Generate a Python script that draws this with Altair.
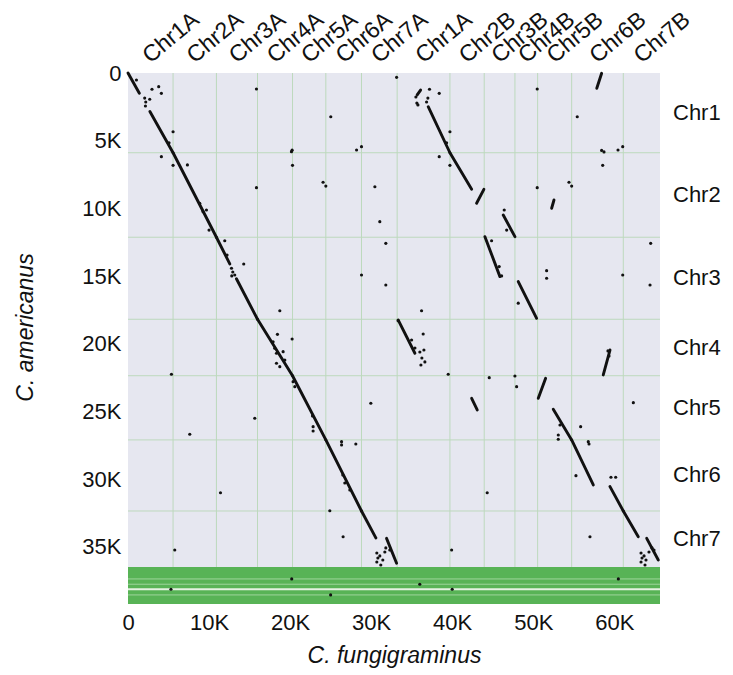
import altair as alt
import pandas as pd

FONT = "Liberation Sans"

# ---- chromosome boundaries (thousand genes) ----
x_bounds = [0, 5.56, 10.91, 15.98, 20.30, 24.41, 28.81, 33.21, 39.72, 43.95, 47.74, 50.54, 54.74, 61.11, 65.64]
x_names = ["Chr1A", "Chr2A", "Chr3A", "Chr4A", "Chr5A", "Chr6A", "Chr7A",
           "Chr1A", "Chr2B", "Chr3B", "Chr4B", "Chr5B", "Chr6B", "Chr7B"]
y_bounds = [0, 5.89, 12.13, 18.19, 22.36, 27.10, 32.35, 36.48]
y_names = ["Chr1", "Chr2", "Chr3", "Chr4", "Chr5", "Chr6", "Chr7"]
y_max = 39.22

# unanchored band and separator stripes
band = [36.48, 39.22]
stripe_thin = [37.37, 37.76, 38.55]
stripe_wide = [38.13]

x_ticks = [0, 10, 20, 30, 40, 50, 60]
y_ticks = [0, 5, 10, 15, 20, 25, 30, 35]

# ---- synteny blocks (start x, start y, end x, end y) ----
seg_x1 = [0, 2.70, 5.56, 10.91, 13.38, 15.98, 20.30, 24.41, 28.81, 31.90,
          57.84, 35.68, 37.04, 39.72, 43.01, 46.30, 44.04, 48.15, 33.33, 58.64,
          42.40, 50.62, 52.47, 54.74, 59.47, 61.11, 64.00, 52.27]
seg_y1 = [0, 2.85, 5.89, 12.13, 15.20, 18.19, 22.36, 27.10, 32.35, 34.37,
          1.13, 1.62, 2.49, 5.89, 9.62, 10.49, 12.09, 15.41, 18.24, 22.30,
          24.03, 24.03, 24.84, 27.10, 30.55, 32.35, 34.37, 9.99]
seg_x2 = [1.40, 5.56, 10.91, 12.56, 15.98, 20.30, 24.41, 28.81, 30.58, 33.14,
          58.44, 36.10, 39.72, 42.40, 43.91, 47.74, 45.89, 50.42, 35.40, 59.47,
          43.09, 51.53, 54.74, 57.41, 61.11, 62.96, 65.43, 52.56]
seg_y2 = [1.50, 5.89, 12.13, 14.10, 18.19, 22.36, 27.10, 32.35, 34.34, 36.21,
          0.02, 1.26, 5.89, 8.59, 8.59, 12.09, 15.04, 18.12, 20.70, 20.46,
          24.89, 22.55, 27.10, 30.43, 32.35, 34.25, 35.97, 9.38]

# ---- scattered hits ----
pt_x = [2.96, 3.79, 4.12, 2.06, 2.19, 2.15, 2.68, 1.04, 5.56, 5.06, 4.12, 5.56, 7.33, 8.85, 9.26,
        9.68, 10.00, 11.94, 12.22, 12.77, 12.93, 13.17, 12.80, 14.28, 15.85, 15.85, 20.17, 20.25,
        20.30, 24.07, 24.41, 25.02, 28.20, 28.81, 30.46, 31.07, 31.81, 28.81, 31.81, 33.14, 18.73,
        35.52, 35.64, 35.77, 37.20, 38.40, 39.72, 39.31, 38.40, 39.72, 50.49, 55.43, 58.57, 60.46,
        61.04, 50.49, 54.41, 54.74, 44.86, 46.72, 46.42, 51.65, 51.65, 61.04, 64.49, 64.41, 36.22,
        48.15, 45.80, 46.10, 58.44, 58.73, 36.84, 37.00,
        5.36, 7.62, 11.41, 15.64, 5.77, 18.44, 20.25, 17.90, 18.11, 18.32, 19.14, 19.35, 18.32,
        18.73, 20.37, 20.58, 22.77, 22.84, 22.84, 26.35, 26.35, 28.11, 26.51, 26.75, 27.37, 24.90,
        29.96, 26.54, 33.33, 30.70, 30.83, 30.70, 31.07, 31.44, 31.69, 31.19, 31.81, 32.30,
        36.42, 34.99, 35.40, 36.01, 36.51, 36.26, 36.63, 36.14, 39.51, 44.57, 47.74, 47.95, 39.93,
        44.32, 53.30, 53.09, 53.09, 55.85, 56.79, 56.88, 55.27, 59.59, 60.17, 62.35, 57.00, 59.22,
        59.35, 63.30, 63.42, 63.30, 63.67, 63.91, 64.28, 63.79, 64.65, 64.90,
        5.30, 20.20, 40.00, 36.00, 60.50, 25.00]
pt_y = [1.20, 1.01, 1.50, 1.85, 2.14, 2.44, 1.94, 0.52, 4.34, 5.15, 6.18, 6.82, 6.79, 9.62, 10.24,
        10.12, 11.60, 12.39, 13.44, 14.42, 14.70, 14.92, 14.99, 14.11, 1.18, 8.47, 5.81, 5.70,
        6.82, 8.07, 8.35, 3.23, 5.69, 5.44, 8.40, 10.98, 12.58, 14.92, 15.66, 0.32, 17.56,
        1.77, 2.22, 2.36, 1.20, 1.50, 4.34, 5.15, 6.18, 6.82, 1.18, 3.23, 6.82, 5.69,
        5.44, 8.47, 8.07, 8.35, 12.39, 11.60, 10.12, 14.60, 15.16, 14.92, 12.58, 15.66, 17.56,
        17.00, 14.30, 14.99, 5.72, 5.83, 2.14, 1.85,
        22.25, 26.68, 31.00, 25.50, 35.23, 19.30, 19.65, 19.85, 20.33, 20.70, 20.58, 21.20, 21.44,
        21.69, 22.80, 23.17, 25.33, 26.12, 26.44, 27.23, 27.47, 27.40, 29.69, 30.28, 30.80, 32.33,
        24.39, 34.25, 18.29, 35.45, 35.82, 36.12, 35.67, 35.97, 35.38, 36.34, 35.08, 35.23,
        19.28, 19.72, 20.31, 20.61, 20.46, 21.05, 21.34, 21.57, 22.25, 22.50, 22.38, 23.17, 35.23,
        31.00, 26.00, 26.74, 27.05, 26.12, 27.23, 27.40, 29.74, 29.86, 29.86, 24.35, 34.25, 20.53,
        20.90, 35.45, 35.82, 36.12, 35.67, 35.97, 35.38, 36.34, 35.08, 35.23,
        38.13, 37.37, 38.13, 37.76, 37.37, 38.55]

# ---- tables built from the arrays ----
xb = pd.DataFrame({"x": x_bounds[1:-1]})
yb = pd.DataFrame({"y": y_bounds[1:-1]})
xlab = pd.DataFrame({"name": x_names,
                     "x": [(a + b) / 2 for a, b in zip(x_bounds[:-1], x_bounds[1:])]})
ylab = pd.DataFrame({"name": y_names,
                     "y": [(a + b) / 2 for a, b in zip(y_bounds[:-1], y_bounds[1:])]})
segs = pd.DataFrame({"x": seg_x1, "y": seg_y1, "x2": seg_x2, "y2": seg_y2})
pts = pd.DataFrame({"x": pt_x, "y": pt_y})
band_df = pd.DataFrame({"x": [x_bounds[0]], "x2": [x_bounds[-1]], "y": [band[0]], "y2": [band[1]]})
thin_df = pd.DataFrame({"y": stripe_thin})
wide_df = pd.DataFrame({"y": stripe_wide})

W, H = 532, 531
xs = alt.Scale(domain=[x_bounds[0], x_bounds[-1]], nice=False, zero=False)
ys = alt.Scale(domain=[0, y_max], nice=False, zero=False, reverse=True)

x_axis = alt.Axis(
    values=x_ticks, labelExpr="datum.value == 0 ? '0' : datum.value + 'K'",
    grid=False, ticks=False, domain=False, labelFlush=False, labelOverlap=False,
    labelFontSize=22, labelFont=FONT, labelColor="#111", labelPadding=8,
    title="C. fungigraminus", titleFont=FONT, titleFontSize=23, titleFontStyle="italic",
    titleFontWeight="normal", titleColor="#111", titleY=51, titleBaseline="middle")
y_axis = alt.Axis(
    values=y_ticks, labelExpr="datum.value == 0 ? '0' : datum.value + 'K'",
    grid=False, ticks=False, domain=False, labelFlush=False, labelOverlap=False,
    labelFontSize=22, labelFont=FONT, labelColor="#111", labelPadding=7,
    title="C. americanus", titleFont=FONT, titleFontSize=23, titleFontStyle="italic",
    titleFontWeight="normal", titleColor="#111", titleX=-103, titleY=254,
    titleAngle=270, titleAlign="center", titleBaseline="middle")

X = lambda: alt.X("x:Q", scale=xs, axis=x_axis, title="C. fungigraminus")
Y = lambda: alt.Y("y:Q", scale=ys, axis=y_axis, title="C. americanus")

vgrid = alt.Chart(xb).mark_rule(color="#bdd9bd", strokeWidth=1).encode(x=X())
hgrid = alt.Chart(yb).mark_rule(color="#bdd9bd", strokeWidth=1).encode(y=Y())

band_rect = alt.Chart(band_df).mark_rect(color="#58b356").encode(
    x=X(), x2="x2:Q", y=Y(), y2="y2:Q")
thin = alt.Chart(thin_df).mark_rule(color="#9fd49c", strokeWidth=1).encode(y=Y())
wide = alt.Chart(wide_df).mark_rule(color="#e4f2e2", strokeWidth=2).encode(y=Y())

seg_layer = alt.Chart(segs).mark_rule(color="#111", strokeWidth=2.9, strokeCap="round").encode(
    x=X(), x2="x2:Q", y=Y(), y2="y2:Q")
pt_layer = alt.Chart(pts).mark_circle(color="#111", size=10, opacity=1).encode(x=X(), y=Y())

top_labels = alt.Chart(xlab).mark_text(
    angle=320, align="left", baseline="alphabetic", fontSize=23, font=FONT, color="#111"
).encode(x=X(), y=alt.value(-9), text="name:N")

right_labels = alt.Chart(ylab).mark_text(
    align="left", baseline="middle", fontSize=22, font=FONT, color="#111"
).encode(x=alt.value(W + 13), y=Y(), text="name:N")

chart = alt.layer(
    vgrid, hgrid, band_rect, thin, wide, seg_layer, pt_layer, top_labels, right_labels
).properties(
    width=W, height=H,
    autosize=alt.AutoSizeParams(type="none"),
    padding={"left": 128, "top": 73, "right": 73, "bottom": 71},
).configure_view(fill="#e6e7f0", strokeWidth=0)

chart.save("out.html", embed_options={"renderer": "svg", "actions": False})
